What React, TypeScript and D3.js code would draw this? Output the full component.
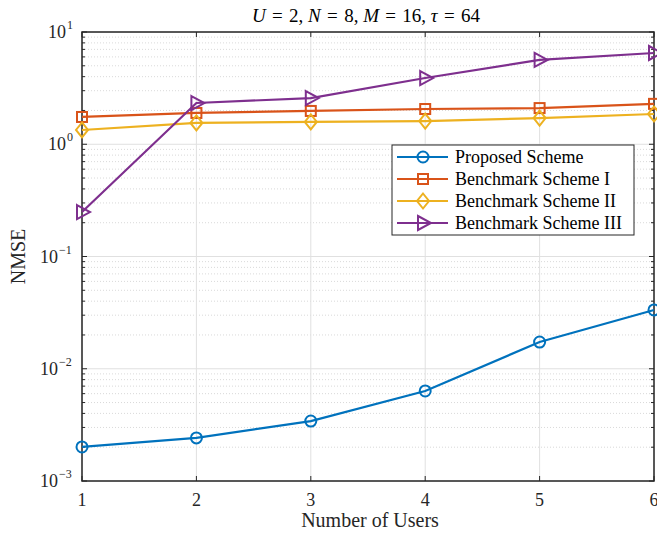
import React from 'react';
import * as d3 from 'd3';

const users = [1, 2, 3, 4, 5, 6];
const proposed = [0.00201, 0.00242, 0.00342, 0.00634, 0.0173, 0.0334];
const benchI = [1.75, 1.9, 1.98, 2.06, 2.1, 2.29];
const benchII = [1.34, 1.55, 1.58, 1.61, 1.71, 1.86];
const benchIII = [0.249, 2.33, 2.58, 3.89, 5.64, 6.5];
const seriesNames = ['Proposed Scheme', 'Benchmark Scheme I', 'Benchmark Scheme II', 'Benchmark Scheme III'];
const seriesColors = ['#0072BD', '#D95319', '#EDB120', '#7E2F8E'];
const seriesMarkers = ['circle', 'square', 'diamond', 'triangle'];
const yExponents = [-3, -2, -1, 0, 1];

const W = 657;
const H = 533;
const margin = { left: 82, right: 3, top: 32, bottom: 52 };
const font = '"Liberation Serif", "DejaVu Serif", serif';

function Marker({ kind, x, y, color }: { kind: string; x: number; y: number; color: string }) {
  const common = { fill: 'none', stroke: color, strokeWidth: 2 };
  if (kind === 'circle') return <circle cx={x} cy={y} r={5.5} {...common} />;
  if (kind === 'square') return <rect x={x - 5} y={y - 5} width={10} height={10} {...common} />;
  if (kind === 'diamond')
    return <path d={`M${x},${y - 7.5}L${x + 6},${y}L${x},${y + 7.5}L${x - 6},${y}Z`} {...common} />;
  return <path d={`M${x - 5},${y - 7}L${x + 8},${y}L${x - 5},${y + 7}Z`} {...common} />;
}

export default function App() {
  const x = d3.scaleLinear().domain([1, 6]).range([margin.left, W - margin.right]);
  const y = d3.scaleLog().domain([1e-3, 1e1]).range([H - margin.bottom, margin.top]);
  const allSeries = [proposed, benchI, benchII, benchIII];

  const minor: number[] = [];
  for (let e = -3; e < 1; e++) for (let k = 2; k <= 9; k++) minor.push(k * Math.pow(10, e));

  const line = d3
    .line<number>()
    .x((_, i) => x(users[i]))
    .y((d) => y(d));

  const x0 = x(1);
  const x1 = x(6);
  const y0 = y(1e-3);
  const y1 = y(1e1);
  const axisColor = '#262626';

  const legX = 392;
  const legY = 145;
  const sp = '\u2004';

  return (
    <svg width={W} height={H} style={{ position: 'absolute', left: 0, top: 0, background: '#fff' }}>
      <rect x={0} y={0} width={W} height={H} fill="#fff" />
      {/* minor grid */}
      {minor.map((m) => (
        <line key={'mg' + m} x1={x0} x2={x1} y1={y(m)} y2={y(m)} stroke="#cfcfcf" strokeWidth={0.8} strokeDasharray="1,2" />
      ))}
      {/* major grid */}
      {yExponents.map((e) => (
        <line key={'yg' + e} x1={x0} x2={x1} y1={y(Math.pow(10, e))} y2={y(Math.pow(10, e))} stroke="#e0e0e0" strokeWidth={1} />
      ))}
      {users.map((u) => (
        <line key={'xg' + u} x1={x(u)} x2={x(u)} y1={y0} y2={y1} stroke="#e0e0e0" strokeWidth={1} />
      ))}

      {/* ticks */}
      {users.map((u) => (
        <g key={'xt' + u}>
          <line x1={x(u)} x2={x(u)} y1={y0} y2={y0 - 5} stroke={axisColor} />
          <line x1={x(u)} x2={x(u)} y1={y1} y2={y1 + 5} stroke={axisColor} />
          <text x={x(u)} y={y0 + 25} textAnchor="middle" fontFamily={font} fontSize={18} fill={axisColor}>
            {u}
          </text>
        </g>
      ))}
      {yExponents.map((e) => (
        <g key={'yt' + e}>
          <line x1={x0} x2={x0 + 5} y1={y(Math.pow(10, e))} y2={y(Math.pow(10, e))} stroke={axisColor} />
          <line x1={x1} x2={x1 - 5} y1={y(Math.pow(10, e))} y2={y(Math.pow(10, e))} stroke={axisColor} />
          <text x={x0 - (e < 0 ? 24 : 16)} y={y(Math.pow(10, e)) + 6} textAnchor="end" fontFamily={font} fontSize={18} fill={axisColor}>
            10
          </text>
          <text x={x0 - (e < 0 ? 23 : 15)} y={y(Math.pow(10, e)) - 3} textAnchor="start" fontFamily={font} fontSize={12} fill={axisColor}>
            {e < 0 ? '\u2212' + Math.abs(e) : e}
          </text>
        </g>
      ))}
      {minor.map((m) => (
        <g key={'mt' + m}>
          <line x1={x0} x2={x0 + 3} y1={y(m)} y2={y(m)} stroke={axisColor} />
          <line x1={x1} x2={x1 - 3} y1={y(m)} y2={y(m)} stroke={axisColor} />
        </g>
      ))}

      {/* box */}
      <rect x={x0} y={y1} width={x1 - x0} height={y0 - y1} fill="none" stroke={axisColor} strokeWidth={1.5} />

      {/* series */}
      {allSeries.map((s, i) => (
        <g key={'s' + i}>
          <path d={line(s) || ''} fill="none" stroke={seriesColors[i]} strokeWidth={2.2} />
          {s.map((v, j) => (
            <Marker key={j} kind={seriesMarkers[i]} x={x(users[j])} y={y(v)} color={seriesColors[i]} />
          ))}
        </g>
      ))}

      {/* legend */}
      <rect x={legX} y={legY} width={242} height={90} fill="#fff" stroke={axisColor} strokeWidth={1} />
      {seriesNames.map((n, i) => {
        const ly = legY + 12 + i * 22;
        return (
          <g key={'l' + i}>
            <line x1={legX + 5} x2={legX + 56} y1={ly} y2={ly} stroke={seriesColors[i]} strokeWidth={2.2} />
            <Marker kind={seriesMarkers[i]} x={legX + 31} y={ly} color={seriesColors[i]} />
            <text x={legX + 63} y={ly + 6} fontFamily={font} fontSize={18} fill="#000">
              {n}
            </text>
          </g>
        );
      })}

      {/* labels */}
      <text x={(x0 + x1) / 2 + 2} y={H - 6} textAnchor="middle" fontFamily={font} fontSize={20} fill={axisColor}>
        Number of Users
      </text>
      <text
        transform={`translate(25,${(y0 + y1) / 2}) rotate(-90)`}
        textAnchor="middle"
        fontFamily={font}
        fontSize={20}
        fill={axisColor}
      >
        NMSE
      </text>
      <text x={(x0 + x1) / 2 - 2} y={22} textAnchor="middle" fontFamily={font} fontSize={19} fill="#000" style={{ whiteSpace: 'pre' }}>
        {[
          ['U', '2'],
          ['N', '8'],
          ['M', '16'],
          ['τ', '64'],
        ].map(([v, n], i) => (
          <tspan key={v}>
            <tspan fontStyle="italic">{v}</tspan>
            {`${sp}=${sp}${n}${i < 3 ? ', ' : ''}`}
          </tspan>
        ))}
      </text>
    </svg>
  );
}
